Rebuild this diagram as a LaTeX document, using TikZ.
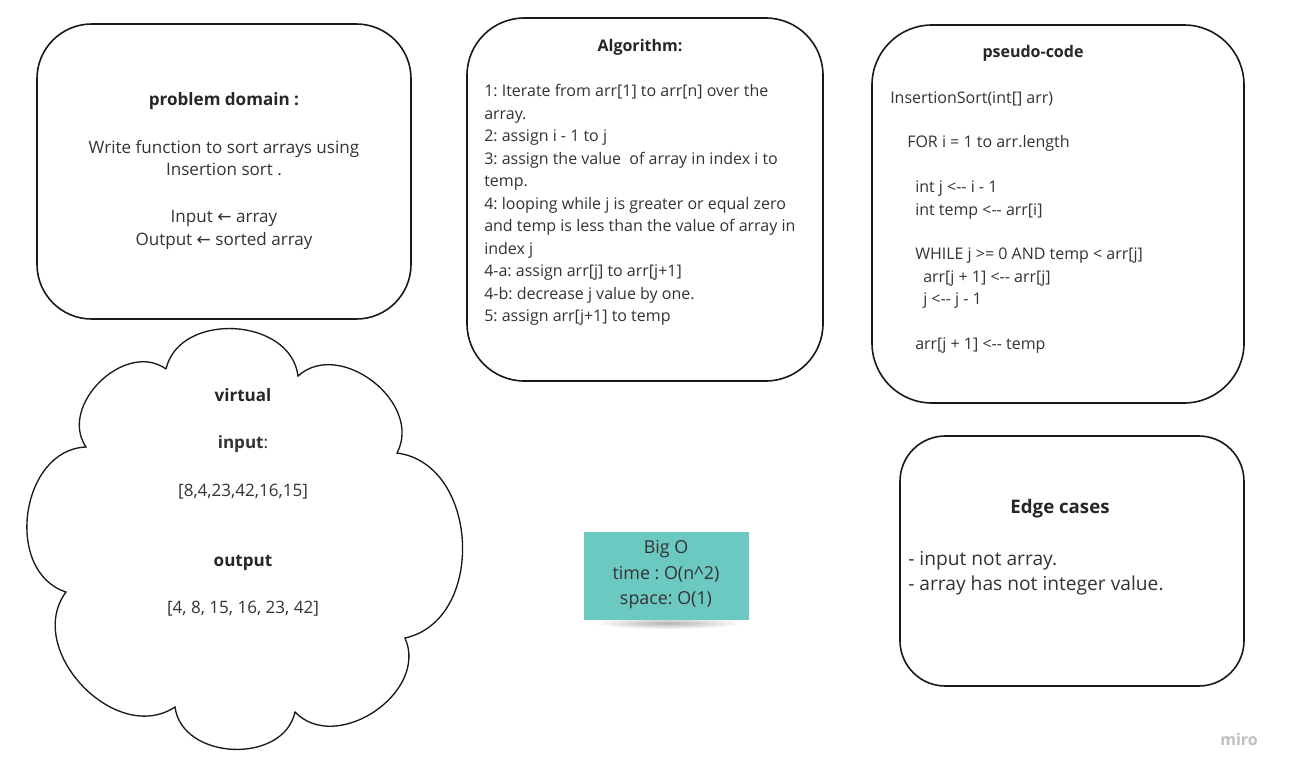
\documentclass[tikz,border=0pt]{standalone}
\usepackage{fontspec}
\setmainfont{Open Sans}
\newfontfamily\arrowfont{DejaVu Sans}
\frenchspacing
\definecolor{inkgray}{HTML}{333333}
\definecolor{stickyteal}{HTML}{6CC9C1}

\tikzset{
  card/.style={draw=black!90, line width=1.2pt, rounded corners=#1},
  body/.style={text=inkgray, font=\fontsize{12}{17}\selectfont, inner sep=0pt},
  bodybig/.style={body, font=\fontsize{12.8}{18}\selectfont},
  heading/.style={body, font=\fontsize{12}{17}\selectfont\bfseries, text=black!85},
  puff/.style={bend left=80, looseness=1.15},
}

\begin{document}
\begin{tikzpicture}[x=0.75pt, y=-0.75pt]
        \useasboundingbox[fill=white] (0,0) rectangle (1289,775);
        % Draw the cards
        \draw[card=41pt] (37,24) rectangle (411,319);
        \draw[card=43pt] (467,18) rectangle (823,381);
        \draw[card=45pt] (872,25) rectangle (1244,403);
        \draw[card=34pt] (900,436) rectangle (1244,686);
        % Problem domain
        \node[heading, font=\fontsize{12.8}{18}\selectfont\bfseries, anchor=base] (domain) at (224,105) {problem domain :};
        \foreach \y/\t in {153.3/{Write function to sort arrays using}, 175.5/{Insertion sort .},
            222.7/{Input {\arrowfont ←} array}, 245/{Output {\arrowfont ←} sorted array}}
            \node[bodybig, anchor=base] (domain-\y) at (224,\y) {\t};
        % Algorithm
        \node[heading, anchor=base] (algo) at (640,51) {Algorithm:};
        \foreach \t [count=\i from 0] in {{1: Iterate from arr[1] to arr[n] over the}, {array.},
            {2: assign i - 1 to j}, {3: assign the value\ \ of array in index i to}, {temp.},
            {4: looping while j is greater or equal zero}, {and temp is less than the value of array in},
            {index j}, {4-a: assign arr[j] to arr[j+1]}, {4-b: decrease j value by one.},
            {5: assign arr[j+1] to temp}}
            \node[body, anchor=base west] (algo-\i) at (484,{96.7+22.5*\i}) {\t};
        % Pseudo-code
        \node[heading, anchor=base] (pseudo) at (1033,57.3) {pseudo-code};
        \foreach \x/\k/\t in {890/0/{InsertionSort(int[] arr)}, 907/2/{FOR i = 1 to arr.length},
            915/4/{int j <-{}- i - 1}, 915/5/{int temp <-{}- arr[i]},
            915/7/{WHILE j >= 0 AND temp < arr[j]}, 923/8/{arr[j + 1] <-{}- arr[j]},
            923/9/{j <-{}- j - 1}, 915/11/{arr[j + 1] <-{}- temp}}
            \node[body, anchor=base west] (pseudo-\k) at (\x,{103+22.4*\k}) {\t};
        % Edge cases
        \node[heading, font=\fontsize{14}{19}\selectfont\bfseries, anchor=base] (edge) at (1060,513) {Edge cases};
        \node[body, font=\fontsize{14.4}{19}\selectfont, anchor=base west] (edge-1) at (908,565) {- input not array.};
        \node[body, font=\fontsize{14.4}{19}\selectfont, anchor=base west] (edge-2) at (908,590) {- array has not integer value.};
        % Cloud with sample data
        \draw[line width=1pt, black!90] (166,369) to[puff] (298,376) to[puff] (397,453)
            to[puff] (405,638) to[puff] (295,712) to[puff] (175,707)
            to[puff] (66,592) to[puff] (86,447) to[puff] (166,369);
        \node[heading, font=\fontsize{12.8}{18}\selectfont\bfseries, anchor=base] (virtual) at (243,401.7) {virtual};
        \node[bodybig, anchor=base] (input) at (243,448) {\textbf{input}:};
        \node[bodybig, anchor=base] (input-val) at (243,496) {[8,4,23,42,16,15]};
        \node[heading, font=\fontsize{12.8}{18}\selectfont\bfseries, anchor=base] (output) at (243,566.7) {output};
        \node[bodybig, anchor=base] (output-val) at (243,613) {[4, 8, 15, 16, 23, 42]};
        % Sticky note
        \shade[inner color=black!30, outer color=white] (668,623) ellipse [x radius=56pt, y radius=4.5pt];
        \node[fill=stickyteal, minimum width=123.75pt, minimum height=66pt, inner sep=0pt] (bigo) at (666,576) {};
        \foreach \y/\t in {553/{Big O}, 579/{time : O(n\textasciicircum2)}, 604/{space: O(1)}}
            \node[body, font=\fontsize{13.4}{18}\selectfont, text=black!80, anchor=base] (bigo-\y) at (666,\y) {\t};
        % Watermark
        \node[text=black!25, font=\fontsize{12}{14}\selectfont\bfseries] (miro) at (1239,739) {miro};
    \end{tikzpicture}
\end{document}
